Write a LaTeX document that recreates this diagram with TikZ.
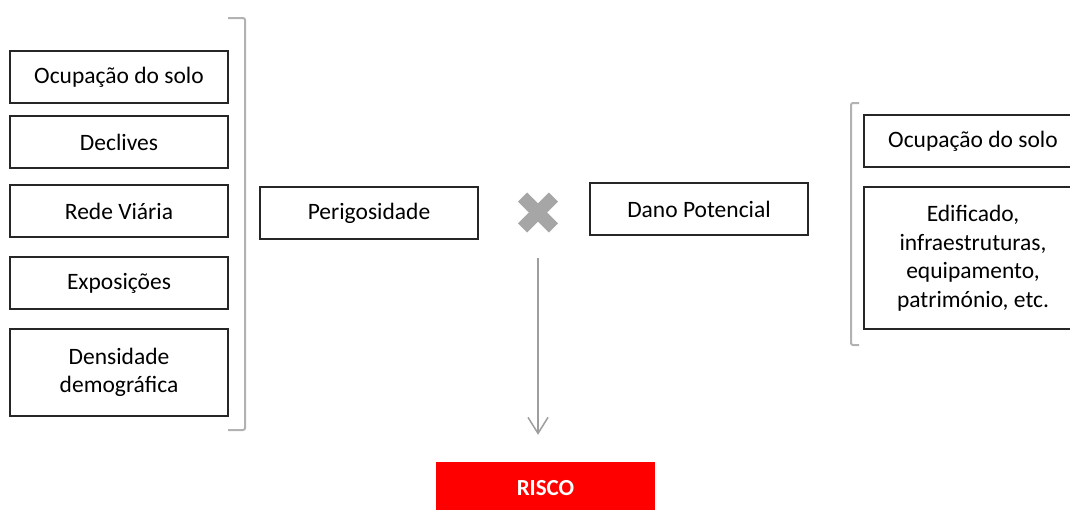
\documentclass[tikz,border=0pt]{standalone}
\usepackage{fontspec}
\setmainfont{Carlito}
\usetikzlibrary{arrows.meta}
\begin{document}
\begin{tikzpicture}
				[x=1pt,y=-1pt,
				box/.style={draw=black!85,line width=1.2pt,minimum width=218pt,minimum height=52pt,inner sep=0pt,align=center,font=\fontsize{23.5}{28.5}\selectfont},
				brace/.style={draw=black!30,line width=2pt,rounded corners=2pt}]
				\clip (0,0) rectangle (1070,509);
				\node[box,name=ocup] at (119,77) {Ocupação do solo};
				\node[box,name=decl] at (119,142) {Declives};
				\node[box,name=rede] at (119,211) {Rede Viária};
				\node[box,name=expo] at (119,283) {Exposições};
				\node[box,name=dens,minimum height=87pt] at (119,372.5) {Densidade\\demográfica};
				\node[box,name=perig] at (369,213) {Perigosidade};
				\node[box,name=dano] at (699,209) {Dano Potencial};
				\node[box,name=ocup2] at (973,141) {Ocupação do solo};
				\node[box,name=edif,minimum height=142pt] at (973,258) {Edificado,\\infraestruturas,\\equipamento,\\património, etc.};
				\node[name=risco,fill=red,minimum width=219pt,minimum height=52pt,inner sep=0pt,text=white,font=\fontsize{23}{28}\selectfont\bfseries] at (545.5,488) {RISCO};
				\node[name=cross,minimum size=40pt,inner sep=0pt] at (538,212.5) {};
				\draw[black!35,line width=13pt] (522.6,197.1) -- (553.4,227.9);
				\draw[black!35,line width=13pt] (522.6,227.9) -- (553.4,197.1);
				\draw[brace] (228,18) -- (245,18) -- (245,430) -- (228,430);
				\draw[brace] (859,103) -- (851,103) -- (851,345) -- (859,345);
				\draw[black!38,line width=1.5pt,-{Straight Barb[length=16pt,width=20pt]},shorten <=25.5pt,shorten >=27pt] (cross) -- (cross |- risco.north);
			\end{tikzpicture}
\end{document}
